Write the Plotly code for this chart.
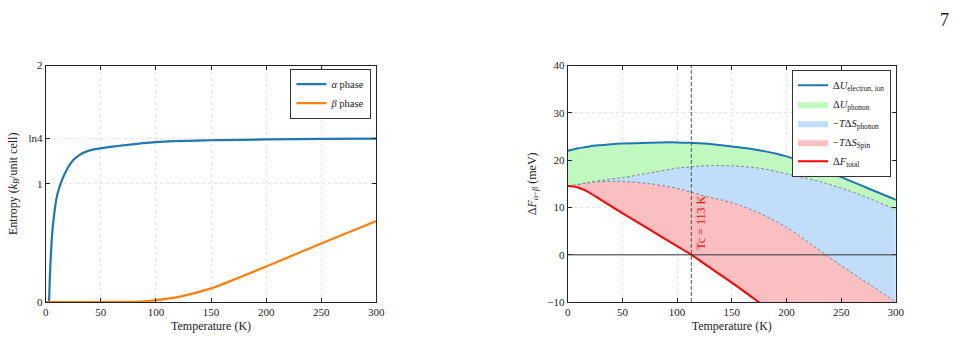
import plotly.graph_objects as go
from plotly.subplots import make_subplots

# Left panel: entropy
T_alpha = [3, 3.5, 4, 5, 6, 7.5, 9.6, 12, 13.5, 17, 21, 25, 30, 39, 54, 70, 100, 150, 200, 250, 300]
S_alpha = [0, 0.15, 0.28, 0.46, 0.60, 0.73, 0.87, 0.96, 1.0, 1.08, 1.15, 1.20, 1.24, 1.28, 1.306, 1.325, 1.352, 1.368, 1.375, 1.379, 1.382]
T_beta = [0, 25, 50, 75, 90, 100, 112, 125, 150, 175, 200, 225, 250, 275, 300]
S_beta = [0, 0, 0, 0.001, 0.006, 0.015, 0.03, 0.052, 0.115, 0.205, 0.30, 0.398, 0.495, 0.59, 0.685]

# Right panel: free energy decomposition (meV)
T_F = [0, 5, 10, 15, 20, 30, 40, 50, 75, 100, 113, 125, 150, 175, 200, 225, 250, 275, 300]
U_elec = [22.0, 22.25, 22.5, 22.7, 22.9, 23.15, 23.35, 23.5, 23.7, 23.75, 23.65, 23.5, 22.9, 22.1, 20.8, 18.7, 16.4, 14.0, 11.6]
U_phon_top = [14.5, 14.7, 14.9, 15.1, 15.3, 15.7, 16.0, 16.3, 17.3, 18.3, 18.6, 18.8, 18.8, 18.3, 17.1, 15.8, 14.1, 12.0, 9.5]
S_phon_top = [14.5, 14.75, 14.95, 15.1, 15.25, 15.45, 15.5, 15.5, 15.0, 14.0, 13.2, 12.4, 11.0, 8.8, 5.8, 1.8, -2.3, -6.15, -10.0]
F_total = [14.55, 14.45, 14.15, 13.7, 13.1, 11.65, 10.2, 8.8, 5.3, 1.8, 0.0, -1.95, -5.9, -10.1, -14.5, -18.8, -23.1, -27.4, -31.7]
Tc = 113

serif = "Liberation Serif, Times New Roman, serif"
black = "#222222"

fig = make_subplots(rows=1, cols=2)

# ---- left panel
fig.add_trace(go.Scatter(x=T_alpha, y=S_alpha, mode="lines", line=dict(color="#1f77b4", width=2.2, shape="spline", smoothing=1),
                         name="<i>α</i> phase", legend="legend"), row=1, col=1)
fig.add_trace(go.Scatter(x=T_beta, y=S_beta, mode="lines", line=dict(color="#ff7f0e", width=2.2, shape="spline", smoothing=1),
                         name="<i>β</i> phase", legend="legend"), row=1, col=1)

# ---- right panel
green = "rgb(192,249,192)"
blue = "rgb(192,221,250)"
pink = "rgb(250,192,193)"
dash_gray = "rgba(110,110,130,0.8)"

fig.add_trace(go.Scatter(x=T_F, y=F_total, mode="lines", line=dict(width=0, shape="spline"), showlegend=False, hoverinfo="skip"), row=1, col=2)
fig.add_trace(go.Scatter(x=T_F, y=S_phon_top, mode="lines", fill="tonexty", fillcolor=pink,
                         line=dict(color=dash_gray, width=1, dash="3px,2px", shape="spline"), showlegend=False), row=1, col=2)
fig.add_trace(go.Scatter(x=T_F, y=U_phon_top, mode="lines", fill="tonexty", fillcolor=blue,
                         line=dict(color=dash_gray, width=1, dash="3px,2px", shape="spline"), showlegend=False), row=1, col=2)
fig.add_trace(go.Scatter(x=T_F, y=U_elec, mode="lines", fill="tonexty", fillcolor=green,
                         line=dict(color="#1f77b4", width=0, shape="spline"), showlegend=False), row=1, col=2)

# visible lines and legend entries
fig.add_trace(go.Scatter(x=T_F, y=U_elec, mode="lines", line=dict(color="#1f77b4", width=2, shape="spline"),
                         name="Δ<i>U</i><sub>electron, ion</sub>", legend="legend2"), row=1, col=2)
for nm, col in [("Δ<i>U</i><sub>phonon</sub>", green),
                ("−<i>T</i>Δ<i>S</i><sub>phonon</sub>", blue),
                ("−<i>T</i>Δ<i>S</i><sub>Spin</sub>", pink)]:
    fig.add_trace(go.Scatter(x=[None], y=[None], mode="lines", fill="toself", fillcolor=col,
                             line=dict(width=0, color=col), name=nm, legend="legend2"), row=1, col=2)
fig.add_trace(go.Scatter(x=T_F, y=F_total, mode="lines", line=dict(color="red", width=2, shape="spline"),
                         name="Δ<i>F</i><sub>total</sub>", legend="legend2"), row=1, col=2)

# zero line and Tc line
fig.add_shape(type="line", xref="x2", yref="y2", x0=0, x1=300, y0=0, y1=0,
              line=dict(color="rgba(60,60,60,0.7)", width=1.5))
fig.add_shape(type="line", xref="x2", yref="y2 domain", x0=Tc, x1=Tc, y0=0, y1=1,
              line=dict(color="rgba(60,60,60,0.85)", width=1, dash="4px,2px"))
fig.add_annotation(xref="x2", yref="y2", x=Tc + 0.5, y=0.6, text="Tc = 113 K", textangle=-90,
                   showarrow=False, xanchor="left", yanchor="bottom",
                   font=dict(family=serif, size=12, color="red"))

axis_common = dict(showline=True, linecolor=black, linewidth=1, mirror="ticks", ticks="inside",
                   ticklen=4, tickcolor=black, showgrid=True, gridcolor="rgba(200,200,200,0.5)",
                   griddash="dot", gridwidth=1, zeroline=False,
                   tickfont=dict(family=serif, size=11, color=black))

fig.update_xaxes(**axis_common)
fig.update_yaxes(**axis_common)

fig.update_xaxes(range=[0, 300], tickvals=[0, 50, 100, 150, 200, 250, 300], domain=[0.0445, 0.3885],
                 title=dict(text="Temperature (K)", font=dict(family=serif, size=12, color=black), standoff=4),
                 row=1, col=1)
fig.update_yaxes(range=[0, 2], tickvals=[0, 1, 1.3862944, 2], ticktext=["0", "1", "ln4", "2"],
                 domain=[0.1058, 0.8201],
                 title=dict(text="Entropy (<i>k<sub>B</sub></i>/unit cell)", font=dict(family=serif, size=12, color=black), standoff=8),
                 row=1, col=1)
fig.update_xaxes(range=[0, 300], tickvals=[0, 50, 100, 150, 200, 250, 300], domain=[0.5876, 0.9291],
                 title=dict(text="Temperature (K)", font=dict(family=serif, size=12, color=black), standoff=4),
                 row=1, col=2)
fig.update_yaxes(range=[-10, 40], tickvals=[-10, 0, 10, 20, 30, 40], ticktext=["−10", "0", "10", "20", "30", "40"],
                 domain=[0.1058, 0.8201],
                 title=dict(text="Δ<i>F</i><sub><i>α</i>−<i>β</i></sub> (meV)", font=dict(family=serif, size=12, color=black), standoff=8),
                 row=1, col=2)

fig.add_annotation(xref="paper", yref="paper", x=0.986, y=0.995, text="7", showarrow=False,
                   xanchor="right", yanchor="top", font=dict(family=serif, size=18, color=black))

fig.update_layout(
    width=973, height=343, margin=dict(l=0, r=0, t=0, b=0),
    paper_bgcolor="white", plot_bgcolor="white",
    font=dict(family=serif, color=black),
    legend=dict(x=0.3834, y=0.8105, xanchor="right", yanchor="top", bgcolor="white",
                bordercolor="#333333", borderwidth=1, font=dict(family=serif, size=10.5),
                itemwidth=30, tracegroupgap=0, traceorder="normal"),
    legend2=dict(x=0.924, y=0.8076, xanchor="right", yanchor="top", bgcolor="white",
                 bordercolor="#333333", borderwidth=1, font=dict(family=serif, size=10.5),
                 itemwidth=30, tracegroupgap=0, traceorder="normal"),
    showlegend=True,
)

fig.write_html("out.html")
